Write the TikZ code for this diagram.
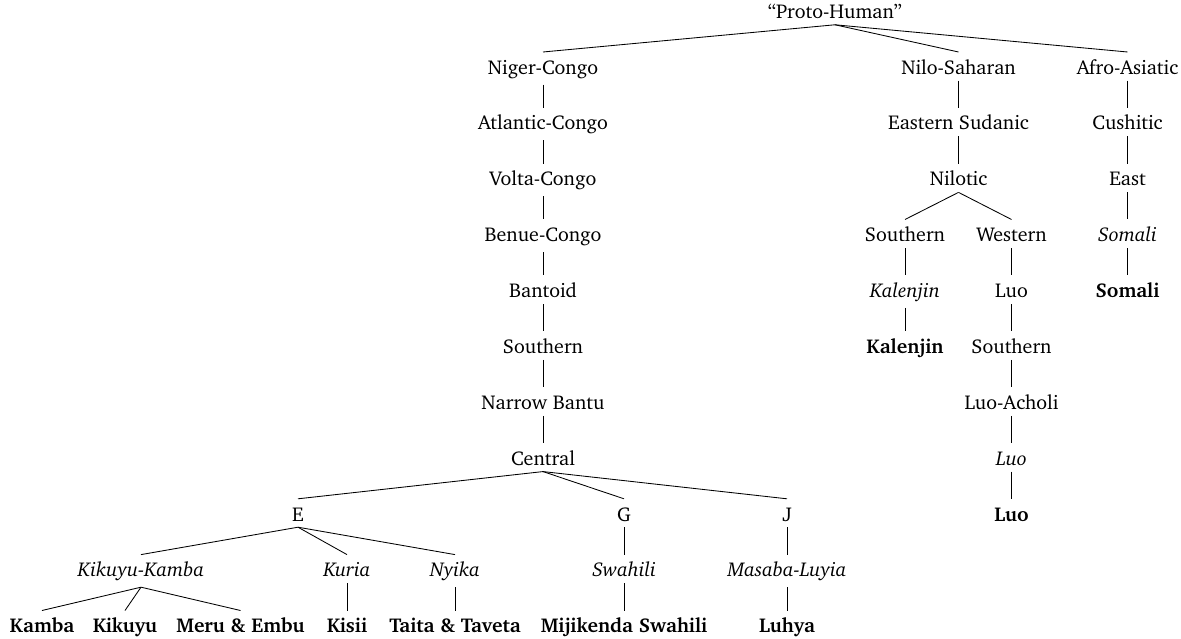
\documentclass[tikz,border=0pt]{standalone}
\usepackage[T1]{fontenc}
\usepackage{charter}
\begin{document}
\begin{tikzpicture}[x=1pt,y=-1pt,
  lang/.style={anchor=base, inner xsep=1pt, inner ysep=6pt, text height=16pt,
    font=\fontsize{20}{24}\selectfont},
  ital/.style={lang, font=\fontsize{20}{24}\selectfont\itshape},
  leaf/.style={lang, font=\fontsize{20}{24}\selectfont\bfseries},
  link/.style={draw, line width=0.85pt}]
\useasboundingbox (0,0) rectangle (1181,639);
% row 0
\node[lang] (ph) at (835,18.3) {``Proto-Human''};
% row 1
\node[lang] (nc) at (543,74.2) {Niger-Congo};
\node[lang] (ns) at (958.5,74.2) {Nilo-Saharan};
\node[lang] (aa) at (1127.5,74.2) {Afro-Asiatic};
% row 2
\node[lang] (ac) at (543,130.0) {Atlantic-Congo};
\node[lang] (es) at (958.5,130.0) {Eastern Sudanic};
\node[lang] (cu) at (1127.5,130.0) {Cushitic};
% row 3
\node[lang] (vc) at (543,185.9) {Volta-Congo};
\node[lang] (nil) at (958.5,185.9) {Nilotic};
\node[lang] (ea) at (1127.5,185.9) {East};
% row 4
\node[lang] (bc) at (543,241.7) {Benue-Congo};
\node[lang] (nsou) at (905,241.7) {Southern};
\node[lang] (nwes) at (1011.5,241.7) {Western};
\node[ital] (soi) at (1127.5,241.7) {Somali};
% row 5
\node[lang] (ba) at (543,297.6) {Bantoid};
\node[ital] (kali) at (905,297.6) {Kalenjin};
\node[lang] (luo) at (1011.5,297.6) {Luo};
\node[leaf] (sob) at (1127.5,297.6) {Somali};
% row 6
\node[lang] (so) at (543,353.4) {Southern};
\node[leaf] (kalb) at (905,353.4) {Kalenjin};
\node[lang] (lsou) at (1011.5,353.4) {Southern};
% row 7
\node[lang] (nb) at (543,409.3) {Narrow Bantu};
\node[lang] (lac) at (1011.5,409.3) {Luo-Acholi};
% row 8
\node[lang] (ce) at (543,465.1) {Central};
\node[ital] (luoi) at (1011.5,465.1) {Luo};
% row 9
\node[lang] (e) at (298,521.0) {E};
\node[lang] (g) at (624,521.0) {G};
\node[lang] (j) at (787,521.0) {J};
\node[leaf] (luob) at (1011.5,521.0) {Luo};
% row 10
\node[ital] (kk) at (141,576.8) {Kikuyu-Kamba};
\node[ital] (ku) at (347,576.8) {Kuria};
\node[ital] (ny) at (455,576.8) {Nyika};
\node[ital] (sw) at (624,576.8) {Swahili};
\node[ital] (ml) at (787,576.8) {Masaba-Luyia};
% row 11
\node[leaf] (kam) at (42,632.7) {Kamba};
\node[leaf] (kik) at (125,632.7) {Kikuyu};
\node[leaf] (me) at (240.5,632.7) {Meru \& Embu};
\node[leaf] (ki) at (347,632.7) {Kisii};
\node[leaf] (tt) at (455,632.7) {Taita \& Taveta};
\node[leaf] (ms) at (624,632.7) {Mijikenda Swahili};
\node[leaf] (lu) at (787,632.7) {Luhya};
% edges
\foreach \p/\c in {ph/nc, ph/ns, ph/aa,
  nc/ac, ac/vc, vc/bc, bc/ba, ba/so, so/nb, nb/ce,
  ce/e, ce/g, ce/j,
  e/kk, e/ku, e/ny, g/sw, j/ml,
  kk/kam, kk/kik, kk/me, ku/ki, ny/tt, sw/ms, ml/lu,
  ns/es, es/nil, nil/nsou, nil/nwes, nsou/kali, kali/kalb,
  nwes/luo, luo/lsou, lsou/lac, lac/luoi, luoi/luob,
  aa/cu, cu/ea, ea/soi, soi/sob}
  \draw[link] (\p.south) -- (\c.north);
\end{tikzpicture}
\end{document}
